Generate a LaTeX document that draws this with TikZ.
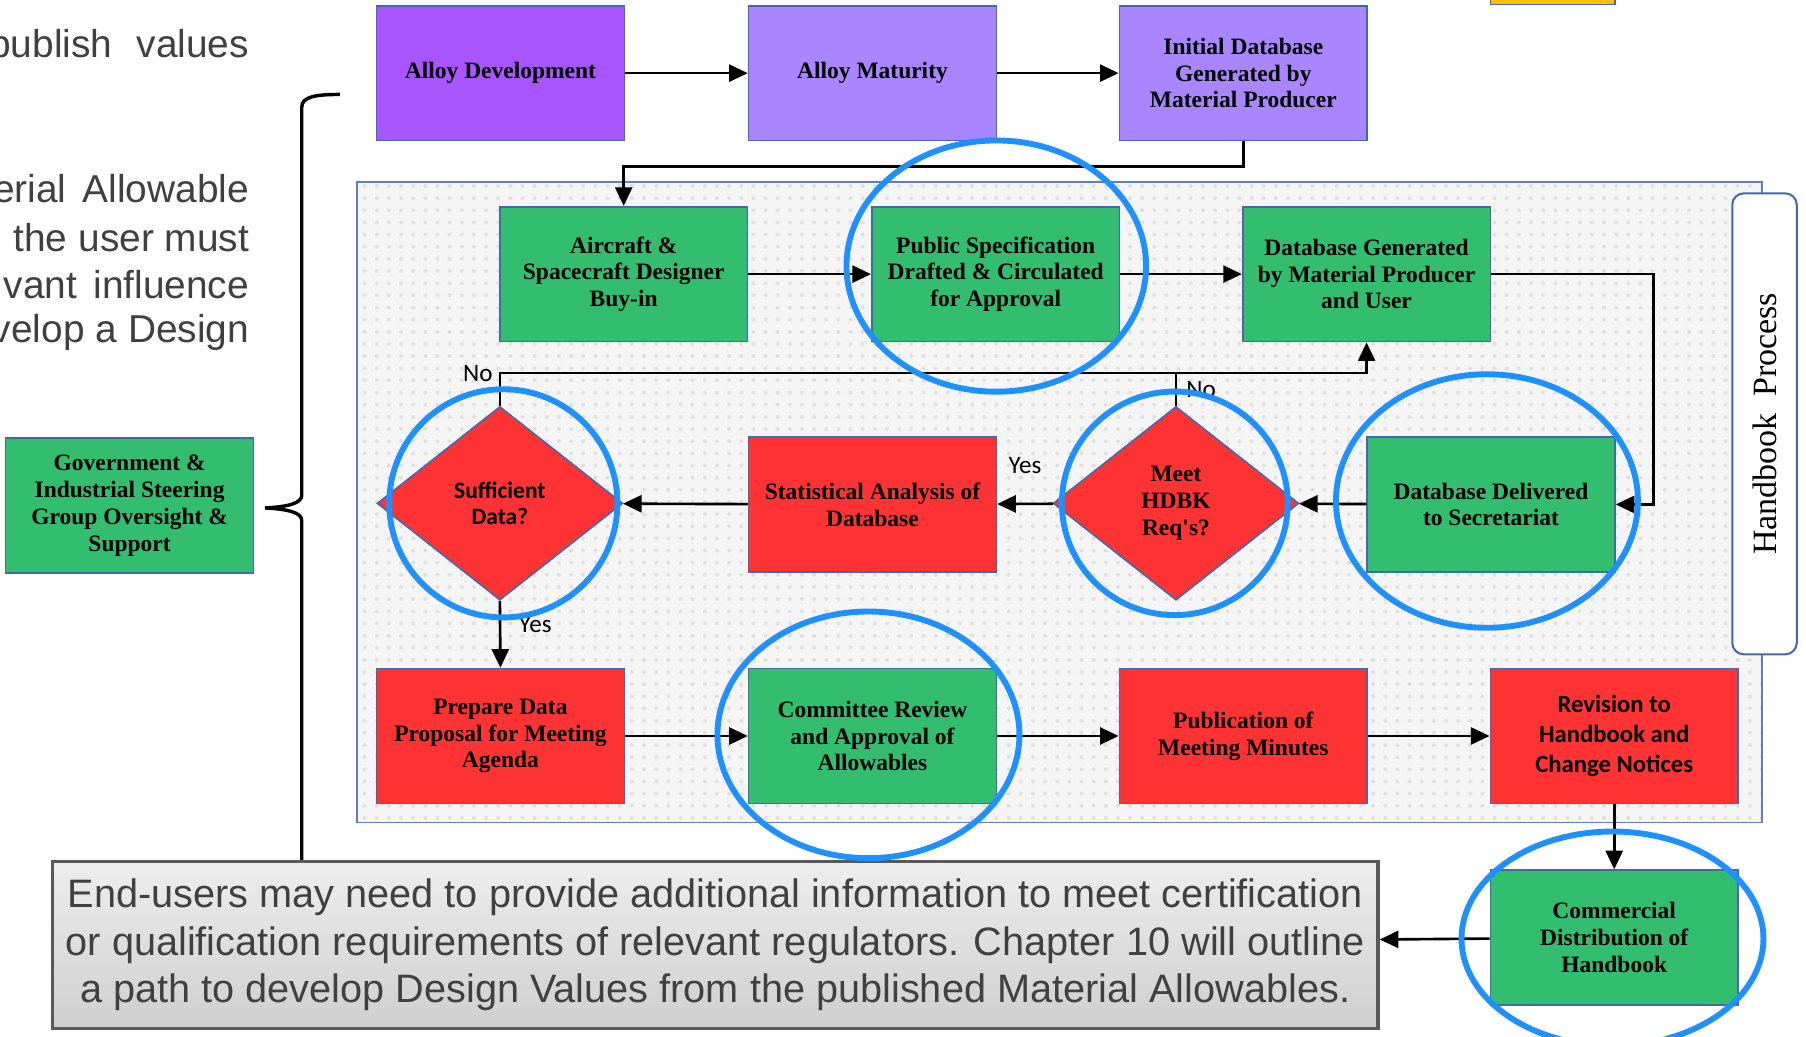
\documentclass[tikz,border=0pt]{standalone}
\usepackage{fontspec}
\setmainfont{Liberation Serif}[Ligatures=TeXOff]
\setsansfont{Liberation Sans}
\newfontfamily\calibri{Carlito}
\usetikzlibrary{arrows.meta,shapes.geometric,patterns,positioning}

\definecolor{devpurple}{RGB}{168,85,255}
\definecolor{lilac}{RGB}{169,133,255}
\definecolor{boxgreen}{RGB}{51,189,110}
\definecolor{boxred}{RGB}{255,51,51}
\definecolor{edgeblue}{RGB}{68,104,170}
\definecolor{ringblue}{RGB}{30,144,255}
\definecolor{slate}{RGB}{64,64,64}
\definecolor{amber}{RGB}{255,192,0}

\begin{document}
\begin{tikzpicture}[x=0.01cm,y=-0.01cm,
  procbox/.style={draw=edgeblue,line width=0.4pt,minimum width=2.15cm,minimum height=1.17cm,
    inner sep=1pt,align=center,font=\fontsize{5.8}{6.6}\selectfont\bfseries},
  decide/.style={diamond,draw=edgeblue,line width=0.4pt,fill=boxred,minimum width=2.13cm,
    minimum height=1.68cm,inner sep=0pt,align=center},
  flow/.style={line width=0.65pt,-{Triangle[length=4.6pt,width=4.2pt]}},
  ring/.style={draw=ringblue,line width=1.45pt},
  yn/.style={font=\calibri\fontsize{6.2}{7}\selectfont,inner sep=1.5pt},
  sidetext/.style={anchor=east,text=slate,inner sep=0pt,font=\sffamily\fontsize{9.6}{11.7}\selectfont}]
  \useasboundingbox (0,0) rectangle (1568,900);
  \clip (0,0) rectangle (1568,900);

  % text of the slide, cut at the left edge
  \node[sidetext] (txta) at (217,41) {publish\hspace{6pt}values};
  \node[sidetext] (txtb) at (217,164) {erial\hspace{4pt}Allowable};
  \node[sidetext] (txtc) at (217,206) {the user must};
  \node[sidetext] (txtd) at (217,247) {vant\hspace{4pt}influence};
  \node[sidetext] (txte) at (217,289) {velop a Design};
  \draw[draw=edgeblue,fill=amber] (1294,-10) rectangle (1402,4);

  % handbook panel
  \fill[black!4] (310,158) rectangle (1530,714);
  \fill[pattern=dots,pattern color=black!12] (310,158) rectangle (1530,714);
  \draw[edgeblue!85,line width=0.4pt] (310,158) rectangle (1530,714);
  \node[draw=edgeblue,line width=0.5pt,fill=white,rounded corners=0.1cm,rotate=90,
    minimum width=4cm,minimum height=0.56cm,inner sep=0pt,
    font=\fontsize{8.4}{9}\selectfont] (hbk) at (1532,368) {Handbook\hspace{4pt}Process};

  % alloy stage
  \node[procbox,fill=devpurple] (devel) at (434.5,63.5) {Alloy Development};
  \node[procbox,fill=lilac] (matur) at (757.5,63.5) {Alloy Maturity};
  \node[procbox,fill=lilac] (initdb) at (1079.5,63.5) {Initial Database\\Generated by\\Material Producer};
  \draw[flow] (devel) -- (matur);
  \draw[flow] (matur) -- (initdb);

  % specification row
  \node[procbox,fill=boxgreen] (buyin) at (541.5,238) {Aircraft \&\\Spacecraft Designer\\Buy-in};
  \node[procbox,fill=boxgreen] (pubspec) at (864.5,238) {Public Specification\\Drafted \& Circulated\\for Approval};
  \node[procbox,fill=boxgreen] (dbgen) at (1186.5,238) {Database Generated\\by Material Producer\\and User};
  \draw[flow] (initdb.south) -- ++(0,22) -| (buyin.north);
  \draw[flow] (buyin) -- (pubspec);
  \draw[flow] (pubspec) -- (dbgen);

  % review row
  \node[decide,font=\calibri\fontsize{5.8}{6.6}\selectfont\bfseries] (suff) at (434,437) {Sufficient\\Data?};
  \node[procbox,fill=boxred] (stat) at (757.5,438) {Statistical Analysis of\\Database};
  \node[decide,font=\fontsize{5.8}{6.6}\selectfont\bfseries] (meet) at (1021,437) {Meet\\HDBK\\Req's?};
  \node[procbox,fill=boxgreen] (deliv) at (1294.5,438) {Database Delivered\\to Secretariat};
  \draw[flow] (dbgen.east) -- ++(141,0) |- (deliv.east);
  \draw[flow] (deliv) -- (meet);
  \draw[flow] (meet) -- node[yn,midway,above=0.2cm] {Yes} (stat);
  \draw[flow] (stat) -- (suff);
  \coordinate (nocorner) at (434,324);
  \draw[flow] (suff.north) -- (nocorner) node[yn,left] {No} -| (dbgen.south);
  \draw[line width=0.65pt] (meet.north) -- (meet.north |- nocorner);
  \node[yn,anchor=west] (nometa) at (1024,338) {No};

  % meeting row
  \node[procbox,fill=boxred] (prep) at (434.5,639) {Prepare Data\\Proposal for Meeting\\Agenda};
  \node[procbox,fill=boxgreen] (commit) at (757.5,639) {Committee Review\\and Approval of\\Allowables};
  \node[procbox,fill=boxred] (publ) at (1079.5,639) {Publication of\\Meeting Minutes};
  \node[procbox,fill=boxred,font=\calibri\fontsize{6.1}{7.4}\selectfont\bfseries] (revis) at (1401.5,639) {Revision to\\Handbook and\\Change Notices};
  \draw[flow] (suff.south) -- node[yn,right,pos=0.35,xshift=0.1cm] {Yes} (prep.north);
  \draw[flow] (prep) -- (commit);
  \draw[flow] (commit) -- (publ);
  \draw[flow] (publ) -- (revis);

  % distribution and oversight
  \node[procbox,fill=boxgreen] (distr) at (1401.5,814) {Commercial\\Distribution of\\Handbook};
  \node[procbox,fill=boxgreen] (gov) at (112.5,439) {Government \&\\Industrial Steering\\Group Oversight \&\\Support};
  \draw[line width=0.85pt] (295,82) .. controls (274,82) and (262,84) .. (262,93) -- (262,430)
    .. controls (262,437) and (250,440) .. (230,441) .. controls (250,442) and (262,445) .. (262,452)
    -- (262,748);
  \node[draw=black!65,line width=0.9pt,top color=black!7,bottom color=black!19,
    minimum width=11.5cm,minimum height=1.45cm,inner sep=0pt,align=center,text=slate,
    font=\sffamily\fontsize{9.8}{11.7}\selectfont] (note) at (621,820.5)
    {End-users may need to provide additional information to meet certification\\
     or qualification requirements of relevant regulators. Chapter 10 will outline\\
     a path to develop Design Values from the published Material Allowables.};
  \draw[flow] (revis) -- (distr);
  \draw[flow] (distr) -- (note);

  % highlight rings
  \draw[ring] (865,231) ellipse [x radius=1.30cm,y radius=1.09cm];
  \draw[ring] (437,437) ellipse [x radius=0.99cm,y radius=0.99cm];
  \draw[ring] (1020,437) ellipse [x radius=0.98cm,y radius=0.97cm];
  \draw[ring] (1291,435) ellipse [x radius=1.31cm,y radius=1.10cm];
  \draw[ring] (754,638) ellipse [x radius=1.31cm,y radius=1.07cm];
  \draw[ring] (1400,815) ellipse [x radius=1.31cm,y radius=0.93cm];
\end{tikzpicture}
\end{document}
